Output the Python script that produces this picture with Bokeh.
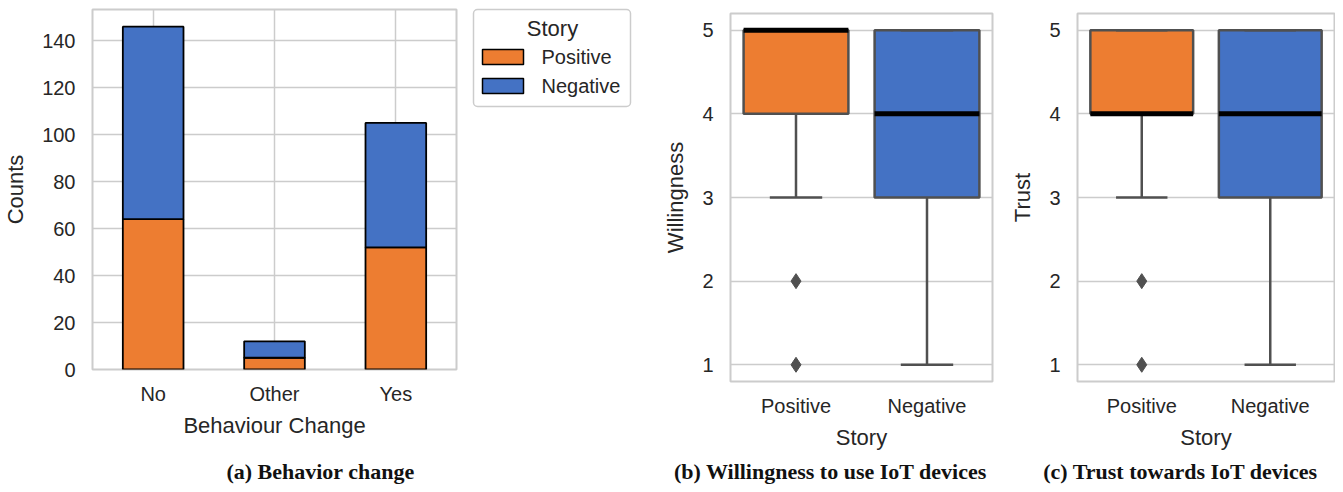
from bokeh.plotting import figure
from bokeh.models import (FactorRange, Range1d, FixedTicker, ColumnDataSource)
from bokeh.core.properties import value
from bokeh.transform import dodge
from bokeh.layouts import row, column
from bokeh.embed import file_html
from bokeh.resources import INLINE

# ---------------- data ----------------
changes = ["No", "Other", "Yes"]
positive_counts = [64, 5, 52]
negative_counts = [82, 7, 53]
count_ticks = [0, 20, 40, 60, 80, 100, 120, 140]

stories = ["Positive", "Negative"]
score_ticks = [1, 2, 3, 4, 5]

will_q1 = [4, 3]
will_median = [5, 4]
will_q3 = [5, 5]
will_low = [3, 1]
will_high = [5, 5]
will_out_story = ["Positive", "Positive"]
will_out_value = [2, 1]

trust_q1 = [4, 3]
trust_median = [4, 4]
trust_q3 = [5, 5]
trust_low = [3, 1]
trust_high = [5, 5]
trust_out_story = ["Positive", "Positive"]
trust_out_value = [2, 1]

captions = ["(a) Behavior change", "(b) Willingness to use IoT devices",
            "(c) Trust towards IoT devices"]

ORANGE = "#ED7D31"
BLUE = "#4472C4"
COLORS = [ORANGE, BLUE]
GRID = "#cccccc"
TEXT = "#262626"
BOXLINE = "#505050"
SANS = "Liberation Sans"
SERIF = "Liberation Serif"
TOP_H = 452
CAP_H = 32


def style(p):
    p.outline_line_color = GRID
    p.outline_line_width = 2
    p.background_fill_color = "white"
    p.border_fill_color = "white"
    for ax in p.axis:
        ax.axis_line_color = None
        ax.major_tick_line_color = None
        ax.minor_tick_line_color = None
        ax.major_tick_out = 0
        ax.major_tick_in = 0
        ax.minor_tick_out = 0
        ax.minor_tick_in = 0
        ax.major_label_text_font = SANS
        ax.major_label_text_font_size = "20px"
        ax.major_label_text_color = TEXT
        ax.axis_label_text_font = SANS
        ax.axis_label_text_font_size = "22px"
        ax.axis_label_text_font_style = "normal"
        ax.axis_label_text_color = TEXT
    p.xaxis.major_label_standoff = 13
    p.xaxis.axis_label_standoff = 5
    p.yaxis.major_label_standoff = 17
    p.yaxis.axis_label_standoff = 11
    p.grid.grid_line_color = GRID
    p.grid.grid_line_width = 1.5


def blank(x0, x1, height):
    # pixel-coordinate canvas (y measured from the top)
    p = figure(width=x1 - x0, height=height, x_range=Range1d(x0, x1),
               y_range=Range1d(height, 0), output_backend="svg",
               toolbar_location=None, min_border=0, title=None,
               frame_align=False)
    p.axis.visible = False
    p.grid.visible = False
    p.outline_line_color = None
    p.background_fill_color = "white"
    p.border_fill_color = "white"
    return p


# ---------------- (a) stacked bars ----------------
pa = figure(width=458, height=TOP_H, x_range=FactorRange(*changes),
            y_range=Range1d(0, 153.3), output_backend="svg", toolbar_location=None,
            min_border_left=91, min_border_right=2, min_border_top=9,
            min_border_bottom=TOP_H - 369, frame_align=False)
src_a = ColumnDataSource(dict(change=changes, Positive=positive_counts,
                              Negative=negative_counts))
pa.vbar_stack(["Positive", "Negative"], x="change", width=0.5,
              fill_color=COLORS, line_color="black", line_width=1.8,
              source=src_a)
style(pa)
pa.yaxis.ticker = FixedTicker(ticks=count_ticks)
pa.xaxis.axis_label = "Behaviour Change"
pa.yaxis.axis_label = "Counts"

# ---------------- legend panel (drawn in pixel space) ----------------
pleg = blank(458, 660, TOP_H)
pleg.quad(left=473, right=630, top=9, bottom=106, fill_color="white",
          line_color=GRID, line_width=1.5, border_radius=4)
pleg.text(x=[552], y=[28], text=["Story"], text_align="center",
          text_baseline="middle", text_font=value(SANS),
          text_font_size="22px", text_color=TEXT)
leg_src = ColumnDataSource(dict(label=stories, color=COLORS,
                                top=[49, 78], bottom=[64, 93], ty=[56.5, 85.5]))
pleg.quad(left=482, right=523, top="top", bottom="bottom", fill_color="color",
          line_color="black", line_width=1.5, source=leg_src)
pleg.text(x=541, y="ty", text="label", text_baseline="middle",
          text_font=value(SANS), text_font_size="20px", text_color=TEXT,
          source=leg_src)


# ---------------- box plots ----------------
def boxplot(p, q1, med, q3, low, high, out_story, out_value, ylabel):
    src = ColumnDataSource(dict(story=stories, q1=q1, med=med, q3=q3, low=low,
                                high=high, color=COLORS))
    p.segment(x0="story", y0="low", x1="story", y1="q1", source=src,
              line_color=BOXLINE, line_width=2.5)
    p.segment(x0="story", y0="q3", x1="story", y1="high", source=src,
              line_color=BOXLINE, line_width=2.5)
    p.vbar(x="story", top="q3", bottom="q1", width=0.8, fill_color="color",
           line_color=BOXLINE, line_width=2.5, source=src)
    for col in ("low", "high"):
        p.segment(x0=dodge("story", -0.2, range=p.x_range), y0=col,
                  x1=dodge("story", 0.2, range=p.x_range), y1=col, source=src,
                  line_color=BOXLINE, line_width=2.5)
    p.segment(x0=dodge("story", -0.4, range=p.x_range), y0="med",
              x1=dodge("story", 0.4, range=p.x_range), y1="med", source=src,
              line_color="black", line_width=5)
    p.scatter(x=out_story, y=out_value, marker="diamond", size=15,
              fill_color=BOXLINE, line_color=BOXLINE)
    style(p)
    p.xgrid.grid_line_color = None
    p.yaxis.ticker = FixedTicker(ticks=score_ticks)
    p.xaxis.axis_label = "Story"
    p.yaxis.axis_label = ylabel


pb = figure(width=340, height=TOP_H, x_range=FactorRange(*stories),
            y_range=Range1d(0.8, 5.2), output_backend="svg", toolbar_location=None,
            min_border_left=68, min_border_right=8, min_border_top=13,
            min_border_bottom=TOP_H - 382, frame_align=False)
boxplot(pb, will_q1, will_median, will_q3, will_low, will_high,
        will_out_story, will_out_value, "Willingness")

pc = figure(width=335, height=TOP_H, x_range=FactorRange(*stories),
            y_range=Range1d(0.8, 5.2), output_backend="svg", toolbar_location=None,
            min_border_left=77, min_border_right=1, min_border_top=13,
            min_border_bottom=TOP_H - 382, frame_align=False)
boxplot(pc, trust_q1, trust_median, trust_q3, trust_low, trust_high,
        trust_out_story, trust_out_value, "Trust")

# ---------------- captions ----------------
pcap = blank(0, 1335, CAP_H)
pcap.text(x=[320, 830, 1180], y=[19, 19, 19], text=captions,
          text_align="center", text_baseline="middle", text_font=value(SERIF),
          text_font_style="bold", text_font_size="22px", text_color="#111111")

layout = column(row(pa, pleg, pb, pc), pcap)
open("out.html", "w").write(file_html(layout, INLINE))
